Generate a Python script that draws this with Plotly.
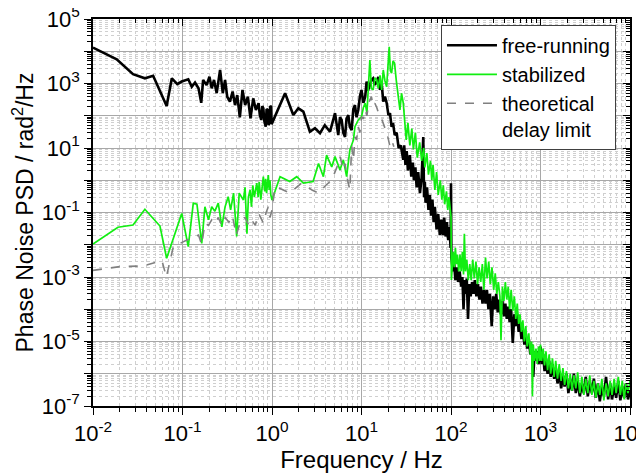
import plotly.graph_objects as go

# ---------------- data ----------------
# free-running
free_f = ([0.010, 0.0184, 0.028, 0.038, 0.047, 0.0665, 0.076, 0.0875, 0.098]
          + [0.116, 0.127, 0.138, 0.151, 0.162, 0.170, 0.186, 0.200, 0.212, 0.225,
             0.241, 0.263, 0.282, 0.299, 0.316, 0.339, 0.363, 0.386, 0.409, 0.437,
             0.468, 0.501, 0.537, 0.575, 0.617, 0.661, 0.708, 0.73, 0.759, 0.78,
             0.80, 0.82, 0.851, 0.87, 0.895, 0.915, 0.933, 0.955, 0.975, 0.99, 1.02]
          + [1.40, 1.73, 1.97, 2.24, 2.65, 3.02, 3.44, 3.89, 4.45, 5.06, 5.3, 5.5,
             5.75, 6.0, 6.25, 6.55, 6.8, 7.13, 7.4, 7.76, 8.1, 8.45, 8.8, 9.2, 9.6]
          + [10.0, 10.5, 11.0, 11.4, 11.8, 12.4, 12.9, 13.5, 14.1, 14.8, 15.4, 16.1,
             16.8, 17.5, 18.3, 19.1, 20.0, 20.8, 21.7, 22.5, 23.5, 24.7, 26, 27.5]
          + [29.3, 30, 31, 32, 33, 34.7, 36, 37.5, 38.5, 40, 41.3, 43, 45, 47, 49,
             50, 51, 52, 54, 56, 58, 60, 62, 64, 66, 69, 72, 75, 78, 81, 84, 87,
             90, 93, 96, 99, 100, 101]
          + [102, 105, 108, 112, 116, 120, 125, 130, 134, 138, 142, 146, 150, 155,
             160, 166, 172, 178, 185, 192, 200, 208, 216, 225, 234, 243, 252, 262,
             272, 285, 296, 308, 320, 333, 346, 360, 375, 390, 405, 420, 436, 452,
             470, 490, 510, 530, 550, 570, 590, 612, 635, 660, 685, 710, 740, 770,
             800, 830, 860, 890, 920, 950, 980, 1000]
          + [1030, 1070, 1110, 1150, 1200, 1250, 1300, 1360, 1420, 1480, 1550, 1620,
             1700, 1780, 1860, 1950, 2050, 2150, 2250, 2360, 2480, 2600, 2750, 2900,
             3050, 3200, 3380, 3550, 3750, 3950, 4150, 4380, 4600, 4850, 5100, 5400,
             5700, 6000, 6300, 6650, 7000, 7400, 7800, 8200, 8600, 9000, 9500, 10000])
free_psd = ([1.3e4, 5.6e3, 1.95e3, 1.45e3, 1.74e3, 2.0e2, 1.45e3, 9.55e2, 1.15e3]
            + [1350, 794, 1070, 708, 251, 1290, 891, 1620, 708, 1290,
               501, 2630, 501, 1290, 389, 275, 562, 214, 437, 89,
               631, 214, 389, 83, 347, 151, 245, 110, 74, 200,
               170, 70, 46, 160, 151, 52, 59, 200, 191, 55, 66]
            + [501, 105, 170, 135, 32, 41, 29, 51, 32, 120, 40, 25,
               90, 74, 30, 22, 80, 105, 45, 36, 160, 214, 90, 151, 400]
            + [631, 250, 389, 1150, 600, 891, 1300, 1450, 900, 1150, 1600, 631,
               1000, 275, 390, 250, 105, 120, 45, 60, 25, 30, 10, 12]
            + [4.3, 12, 3, 8, 2, 6, 1.3, 3.5, 1.0, 2.5, 0.6, 1.8, 0.4, 1.2, 22,
               0.3, 0.9, 0.2, 0.6, 0.12, 0.35, 0.08, 0.25, 0.05, 0.15, 0.03, 0.09, 0.02, 0.06, 0.02, 0.07, 0.018,
               0.05, 0.014, 0.035, 0.008, 0.8, 0.004]
            + [3e-3, 1.5e-3, 3e-3, 8e-4, 2e-3, 7e-4, 1.5e-3, 5e-4, 1e-3, 1e-4, 8e-4, 3e-4, 9e-4, 5e-5,
               6e-4, 2.5e-4, 7e-4, 3e-4, 8e-4, 2.5e-4, 6e-4, 2e-4, 5e-4, 1.5e-4, 4e-4, 1.5e-4, 4e-4, 1e-4,
               3e-4, 3e-5, 2.5e-4, 1e-4, 3e-4, 8e-5, 2e-4, 7e-5, 1.8e-4, 6e-5, 1.5e-4, 5e-5, 1.2e-4, 4e-5,
               1e-4, 9e-6, 7e-5, 3e-5, 7e-5, 2e-5, 4e-5, 1.2e-5, 2.5e-5, 8e-6, 1.8e-5, 6e-6, 1.2e-5, 4e-6,
               8e-6, 8e-7, 5e-6, 2.5e-6, 5e-6, 2e-6, 4e-6, 7e-6]
            + [2e-6, 4e-6, 1.2e-6, 3e-6, 1e-6, 2.5e-6, 8e-7, 2e-6, 7e-7, 1.5e-6, 5e-7, 1.2e-6,
               3.5e-7, 9e-7, 4e-7, 1e-6, 2.5e-7, 7e-7, 3e-7, 1e-6, 2.5e-7, 6e-7, 2e-7, 5e-7,
               2.5e-7, 8e-7, 2e-7, 6e-7, 2.5e-7, 7e-7, 1.8e-7, 5e-7, 1.4e-7, 4e-7, 2e-7, 8e-7,
               1.6e-7, 5e-7, 1.6e-7, 4e-7, 1.8e-7, 6e-7, 1.5e-7, 4e-7, 1.8e-7, 5e-7, 1.6e-7, 3e-7])

# stabilized
stab_f = ([0.010, 0.019, 0.028, 0.038, 0.056, 0.0665, 0.098]
          + [0.116, 0.132, 0.145, 0.164, 0.178, 0.195, 0.212, 0.230, 0.251, 0.275,
             0.299, 0.324, 0.345, 0.372, 0.403, 0.43, 0.479, 0.50, 0.525, 0.545,
             0.569, 0.59, 0.61, 0.635, 0.676, 0.70, 0.72, 0.75, 0.78, 0.80, 0.83,
             0.85, 0.87, 0.89, 0.91, 0.93, 0.95, 0.97, 1.0]
          + [1.23, 1.58, 1.89, 2.24, 2.88, 3.31, 3.75, 4.07, 4.65, 5.06, 5.75, 6.27,
             6.82, 7.41, 8.13, 8.45, 9.2]
          + [10.0, 10.5, 11.0, 11.5, 11.9, 12.4, 12.9, 13.5, 14.1, 14.8, 15.4, 16.1,
             16.8, 17.5, 18.3, 19.1, 19.7, 20.4, 21.0, 21.7, 22.5, 23.4, 24.5, 25.7, 26.9]
          + [28, 29.3, 30.5, 31.6, 33, 34.7, 36.5, 38, 40, 42, 44.7, 47, 49.5,
             51, 53.7, 56, 59, 61, 63, 66, 69, 72, 75.9, 79, 82, 85, 89, 92, 95, 98,
             100, 101]
          + [103, 106, 109, 112, 115, 118, 122, 126, 130, 134, 138, 141, 145, 150,
             156, 162, 168, 175, 182, 190, 198, 206, 215, 224, 233, 243, 253, 264,
             275, 287, 300, 312, 325, 338, 352, 362, 375, 390, 405, 420, 436, 452,
             470, 490, 510, 530, 550, 570, 590, 612, 635, 660, 685, 710, 740, 770,
             795, 812, 830, 860, 890, 920, 950, 980, 1000]
          + [1030, 1070, 1110, 1150, 1200, 1250, 1300, 1360, 1420, 1480, 1550, 1620,
             1700, 1780, 1860, 1950, 2050, 2150, 2250, 2360, 2480, 2600, 2750, 2900,
             3050, 3200, 3380, 3550, 3750, 3950, 4150, 4380, 4600, 4850, 5100, 5400,
             5700, 6000, 6300, 6650, 7000, 7400, 7800, 8200, 8600, 9000, 9500, 10000])
stab_psd = ([1.05e-2, 3.5e-2, 4.1e-2, 0.126, 3.8e-2, 3.8e-3, 0.093]
            + [8.7e-3, 0.195, 0.18, 0.011, 0.15, 0.059, 0.15, 0.11, 0.195, 0.036,
               0.15, 0.31, 0.12, 0.40, 0.018, 0.40, 0.245, 0.6, 0.022, 0.3,
               0.5, 0.15, 0.7, 0.3, 0.81, 0.3, 0.9, 0.25, 1.0, 1.29, 0.45,
               1.1, 0.4, 1.2, 1.45, 0.5, 1.0, 0.35, 0.245]
            + [1.29, 0.91, 1.29, 0.81, 0.91, 3.3, 1.29, 6.0, 2.6, 5.4, 2.1, 4.3,
               1.29, 8.7, 17.8, 46, 74]
            + [93, 180, 245, 120, 794, 5370, 700, 631, 1500, 1290, 700, 1800,
               631, 2630, 1200, 794, 3000, 13800, 2500, 2090, 5000, 4270, 1200, 389, 151]
            + [500, 245, 60, 17.8, 60, 12, 40, 9, 30, 5, 15, 4, 10,
               2.5, 7, 1.5, 4, 1.0, 3, 0.5, 1.8, 0.35, 1.0, 0.25, 0.7, 0.18, 0.45, 0.12, 0.3, 0.08,
               0.074, 8.1e-4]
            + [3e-3, 6e-3, 2e-3, 8e-3, 2.5e-3, 5e-3, 1.5e-3, 5e-3, 1.5e-3, 6e-3, 1.2e-3, 2.2e-2, 1.5e-3, 3.5e-3,
               8e-4, 2.5e-3, 8e-4, 3.5e-3, 9e-4, 3e-3, 6e-4, 2e-3, 7e-4, 2.5e-3, 4e-4, 4e-3, 9e-4, 3e-3,
               6e-4, 2e-3, 4e-4, 1.3e-3, 3e-4, 7e-4, 2.5e-4, 1.1e-5, 5e-4, 1.8e-4, 7e-4, 2e-4, 5e-4, 1e-4,
               4e-4, 9e-5, 2.5e-4, 5e-5, 1.5e-4, 3.5e-5, 7e-5, 2e-5, 4.5e-5, 1e-5, 3e-5, 7e-6, 1.8e-5, 4e-6,
               1e-5, 2e-7, 8e-6, 2.5e-6, 6e-6, 2e-6, 7e-6, 2.5e-6, 8e-6]
            + [2.5e-6, 6e-6, 1.8e-6, 5e-6, 1.3e-6, 4e-6, 1e-6, 3e-6, 8e-7, 2.5e-6, 7e-7, 2e-6,
               6e-7, 1.5e-6, 4.5e-7, 1.2e-6, 3.5e-7, 1e-6, 3e-7, 9e-7, 3.5e-7, 1.1e-6, 2.5e-7, 8e-7,
               2.2e-7, 7e-7, 2.5e-7, 9e-7, 2.2e-7, 6e-7, 1.8e-7, 5e-7, 2.2e-7, 7e-7, 1.5e-7, 5e-7,
               2e-7, 6e-7, 2.2e-7, 7e-7, 2.5e-7, 8e-7, 2.2e-7, 6e-7, 1.6e-7, 5e-7, 2.5e-7, 6e-7])

# theoretical delay limit
theo_f = [0.010, 0.020, 0.036, 0.059, 0.066, 0.079, 0.112, 0.151,
          0.164, 0.178, 0.195, 0.212, 0.23, 0.251, 0.275, 0.30, 0.33, 0.36, 0.40,
          0.45, 0.50, 0.55, 0.59, 0.65, 0.71, 0.76, 0.80, 0.86, 0.91, 0.95, 1.0,
          1.07, 1.12, 1.58, 2.14, 2.8, 3.31, 4.0, 4.65, 5.3, 5.75, 6.27, 6.55,
          7.0, 7.41, 7.76, 8.13, 8.45, 8.8, 9.2, 9.6, 10.0, 10.5, 11.0, 11.5,
          12.0, 12.9, 13.5, 14.1, 14.8, 15.5, 16.8, 18.2, 19.5, 20.8, 22.0, 23.0]
theo_psd = [1.6e-3, 2.1e-3, 2.2e-3, 3.2e-3, 1.0e-3, 8.7e-3, 1.4e-2, 2.0e-2,
            0.01, 0.047, 0.04, 0.059, 0.045, 0.07, 0.04, 0.07, 0.05, 0.08, 0.02,
            0.06, 0.07, 0.04, 0.059, 0.04, 0.093, 0.06, 0.047, 0.1, 0.15, 0.07, 0.12,
            0.5, 0.63, 0.40, 0.81, 0.5, 0.40, 0.7, 1.02, 2.5, 5.4, 2.1, 3.3,
            1.0, 0.5, 11, 4.3, 22, 17.8, 46, 30, 93, 80, 150, 100,
            250, 390, 200, 245, 180, 120, 80, 46, 25, 11, 16, 11]

assert len(free_f) == len(free_psd)
assert len(stab_f) == len(stab_psd)
assert len(theo_f) == len(theo_psd)

x_ticks = [1e-2, 1e-1, 1e0, 1e1, 1e2, 1e3, 1e4]
x_labels = ["10<sup>-2</sup>", "10<sup>-1</sup>", "10<sup>0</sup>", "10<sup>1</sup>",
            "10<sup>2</sup>", "10<sup>3</sup>", "10<sup>4</sup>"]
y_ticks = [1e-7, 1e-6, 1e-5, 1e-4, 1e-3, 1e-2, 1e-1, 1e0, 1e1, 1e2, 1e3, 1e4, 1e5]
y_labels = ["10<sup>-7</sup>", "", "10<sup>-5</sup>", "", "10<sup>-3</sup>", "",
            "10<sup>-1</sup>", "", "10<sup>1</sup>", "", "10<sup>3</sup>", "", "10<sup>5</sup>"]

# ---------------- figure ----------------
FONT = "Liberation Sans, Arial, Helvetica, sans-serif"
x_minor = [m * 10.0 ** d for d in range(-2, 4) for m in range(2, 10)]
y_minor = [m * 10.0 ** d for d in range(-7, 5) for m in range(2, 10)]

fig = go.Figure()
fig.add_trace(go.Scatter(x=free_f, y=free_psd, mode="lines", name="free-running",
                         line=dict(color="black", width=2.6)))
fig.add_trace(go.Scatter(x=stab_f, y=stab_psd, mode="lines", name="stabilized",
                         line=dict(color="#11ee11", width=1.7)))
fig.add_trace(go.Scatter(x=theo_f, y=theo_psd, mode="lines", name="theoretical<br>delay limit",
                         line=dict(color="#808080", width=1.6, dash="dash")))
# empty traces so the mirrored top / right axes are drawn
fig.add_trace(go.Scatter(x=[], y=[], xaxis="x2", yaxis="y", showlegend=False, hoverinfo="skip"))
fig.add_trace(go.Scatter(x=[], y=[], xaxis="x", yaxis="y2", showlegend=False, hoverinfo="skip"))

common = dict(type="log", showline=True, linecolor="black", linewidth=1.5,
              tickcolor="black", tickwidth=1.2, zeroline=False, automargin=False)

# the page body adds an 8 px offset, so margins are shifted to compensate
fig.update_layout(
    width=644, height=475,
    margin=dict(l=85, r=22, t=11, b=77),
    paper_bgcolor="white", plot_bgcolor="white",
    font=dict(family=FONT, color="black"),
    xaxis=dict(**common, range=[-2, 4], tickmode="array", tickvals=x_ticks, ticktext=x_labels,
               ticks="outside", ticklen=7, tickfont=dict(size=22), ticklabeloverflow="allow",
               showgrid=True, gridcolor="#a8a8a8", gridwidth=1,
               minor=dict(tickmode="array", tickvals=x_minor, ticks="outside", ticklen=4,
                          tickcolor="black", showgrid=True, gridcolor="#cfcfcf",
                          griddash="dot", gridwidth=1),
               title=dict(text="Frequency / Hz", font=dict(size=24), standoff=5)),
    yaxis=dict(**common, range=[-7, 5], tickmode="array", tickvals=y_ticks, ticktext=y_labels,
               ticks="outside", ticklen=7, tickfont=dict(size=22), ticklabeloverflow="allow",
               showgrid=True, gridcolor="#a8a8a8", gridwidth=1,
               minor=dict(tickmode="array", tickvals=y_minor, ticks="outside", ticklen=4,
                          tickcolor="black", showgrid=True, gridcolor="#cfcfcf",
                          griddash="dot", gridwidth=1),
               title=dict(text="Phase Noise PSD / rad<sup>2</sup>/Hz", font=dict(size=23), standoff=5)),
    xaxis2=dict(**common, overlaying="x", side="top", range=[-2, 4], tickmode="array",
                tickvals=x_ticks, ticks="inside", ticklen=7, showticklabels=False, showgrid=False,
                minor=dict(tickmode="array", tickvals=x_minor, ticks="inside", ticklen=4,
                           tickcolor="black", showgrid=False)),
    yaxis2=dict(**common, overlaying="y", side="right", range=[-7, 5], tickmode="array",
                tickvals=y_ticks, ticks="inside", ticklen=7, showticklabels=False, showgrid=False,
                minor=dict(tickmode="array", tickvals=y_minor, ticks="inside", ticklen=4,
                           tickcolor="black", showgrid=False)),
    legend=dict(x=0.648, y=0.985, xanchor="left", yanchor="top",
                bgcolor="white", bordercolor="#404040", borderwidth=1,
                font=dict(size=20, family=FONT), valign="top", itemwidth=50,
                tracegroupgap=0),
    showlegend=True,
)

fig.write_html("out.html")
